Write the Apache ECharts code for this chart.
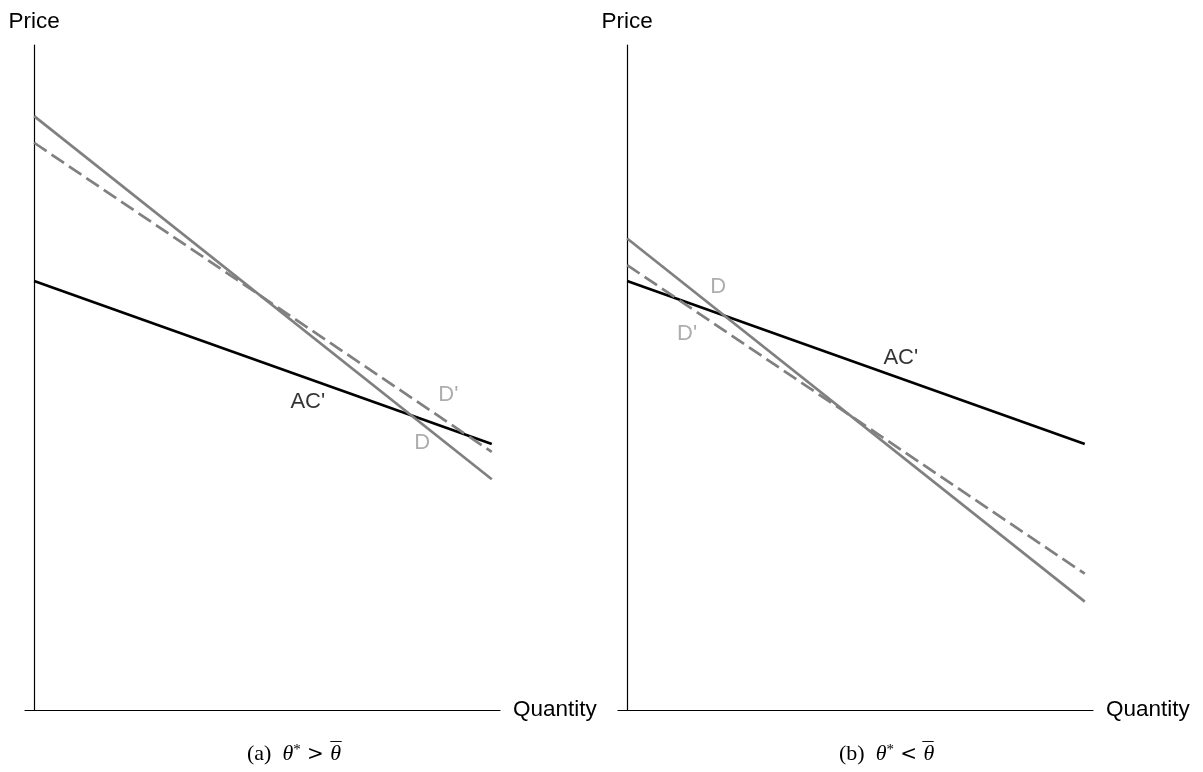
<!DOCTYPE html>
<html>
<head>
<meta charset="utf-8">
<script src="https://cdn.jsdelivr.net/npm/echarts@6/dist/echarts.min.js"></script>
<style>
html,body{margin:0;padding:0;background:#fff;}
#chart{width:1203px;height:772px;}
</style>
</head>
<body>
<div id="chart"></div>
<script>
// ---- Data (x: quantity units, y: price units) ----
var quantityEnds = [0, 10];
// Panel (a): theta* > theta-bar
var aD      = [8.93, 3.47];
var aDprime = [8.53, 3.88];
var aAC     = [6.45, 4.00];
// Panel (b): theta* < theta-bar
var bD      = [7.09, 1.63];
var bDprime = [6.69, 2.05];
var bAC     = [6.45, 4.00];
// Curve label anchors (data coords)
var aLabels = [
  {name: "AC'", value: [5.98, 4.63], color: '#000'},
  {name: "D'",  value: [9.05, 4.74], color: '#999'},
  {name: "D",   value: [8.48, 4.02], color: '#999'}
];
var bLabels = [
  {name: "D",   value: [1.99, 6.36], color: '#999'},
  {name: "D'",  value: [1.31, 5.65], color: '#999'},
  {name: "AC'", value: [5.98, 5.29], color: '#000'}
];
var axisNames = {x: 'Quantity', y: 'Price'};
var captions = ['a', 'b'];
var relations = ['>', '<'];

function pts(vals){ return quantityEnds.map(function(x,i){ return [x, vals[i]]; }); }

var FONT = '"Liberation Sans", Arial, sans-serif';
var SERIF = '"Liberation Serif", "DejaVu Serif", serif';
var DSERIF = '"DejaVu Serif", serif';

function xAxisCfg(gi){
  return {
    gridIndex: gi, type: 'value', min: -0.2, max: 10.18,
    name: axisNames.x, nameLocation: 'end', nameGap: 13,
    nameTextStyle: {fontFamily: FONT, fontSize: 22.5, color: '#000', verticalAlign: 'middle', align: 'left'},
    axisLine: {show: true, lineStyle: {color: '#000', width: 1.2}},
    axisTick: {show: false}, axisLabel: {show: false}, splitLine: {show: false}
  };
}
function yAxisCfg(gi){
  return {
    gridIndex: gi, type: 'value', min: 0, max: 10,
    name: axisNames.y, nameLocation: 'end', nameGap: 23,
    nameTextStyle: {fontFamily: FONT, fontSize: 22.5, color: '#000', align: 'center', verticalAlign: 'middle'},
    axisLine: {show: true, onZero: true, lineStyle: {color: '#000', width: 1.2}},
    axisTick: {show: false}, axisLabel: {show: false}, splitLine: {show: false}
  };
}
function lineSeries(gi, vals, color, dashed){
  return {
    type: 'line', xAxisIndex: gi, yAxisIndex: gi, data: pts(vals),
    showSymbol: false, symbol: 'none', silent: true, animation: false,
    lineStyle: {color: color, width: 2.7, type: dashed ? [15, 6] : 'solid', cap: 'butt'}
  };
}
function labelSeries(gi, labels){
  return {
    type: 'scatter', xAxisIndex: gi, yAxisIndex: gi, symbolSize: 0, silent: true, animation: false,
    data: labels.map(function(l){
      return {name: l.name, value: l.value,
        label: {show: true, position: 'inside', formatter: l.name,
          fontFamily: FONT, fontSize: 22, color: l.color, textBorderWidth: 0, textShadowBlur: 0}};
    })
  };
}
function caption(i, lx){
  return {
    text: '{n|(' + captions[i] + ')  }{t|θ}{s|*}{r| ' + relations[i] + ' }{b|θ}',
    left: lx, top: 743, textAlign: 'left', padding: 0,
    textStyle: {
      fontWeight: 'normal',
      rich: {
        n: {fontFamily: SERIF, fontSize: 22, fontWeight: 'normal', color: '#000'},
        t: {fontFamily: SERIF, fontSize: 22, fontWeight: 'normal', fontStyle: 'italic', color: '#000'},
        s: {fontFamily: SERIF, fontSize: 15, fontWeight: 'normal', color: '#000', verticalAlign: 'top', padding: [0,0,8,0]},
        r: {fontFamily: DSERIF, fontSize: 20, fontWeight: 'normal', color: '#000'},
        b: {fontFamily: SERIF, fontSize: 22, fontWeight: 'normal', fontStyle: 'italic', color: '#000'}
      }
    }
  };
}
function macron(cx){
  return {
    text: '\u00AF', left: cx, top: 740, textAlign: 'center', padding: 0,
    textStyle: {fontFamily: SERIF, fontSize: 22, fontWeight: 'normal', color: '#000'}
  };
}

var chart = echarts.init(document.getElementById('chart'), null, {renderer: 'canvas'});
chart.setOption({
  animation: false,
  backgroundColor: '#fff',
  title: [caption(0, 247), caption(1, 839), macron(336), macron(928)],
  grid: [
    {left: 25, top: 45, width: 475, height: 665},
    {left: 618, top: 45, width: 475, height: 665}
  ],
  xAxis: [xAxisCfg(0), xAxisCfg(1)],
  yAxis: [yAxisCfg(0), yAxisCfg(1)],
  series: [
    lineSeries(0, aAC, '#000', false),
    lineSeries(0, aD, '#808080', false),
    lineSeries(0, aDprime, '#808080', true),
    labelSeries(0, aLabels),
    lineSeries(1, bAC, '#000', false),
    lineSeries(1, bD, '#808080', false),
    lineSeries(1, bDprime, '#808080', true),
    labelSeries(1, bLabels)
  ]
});
</script>
</body>
</html>
